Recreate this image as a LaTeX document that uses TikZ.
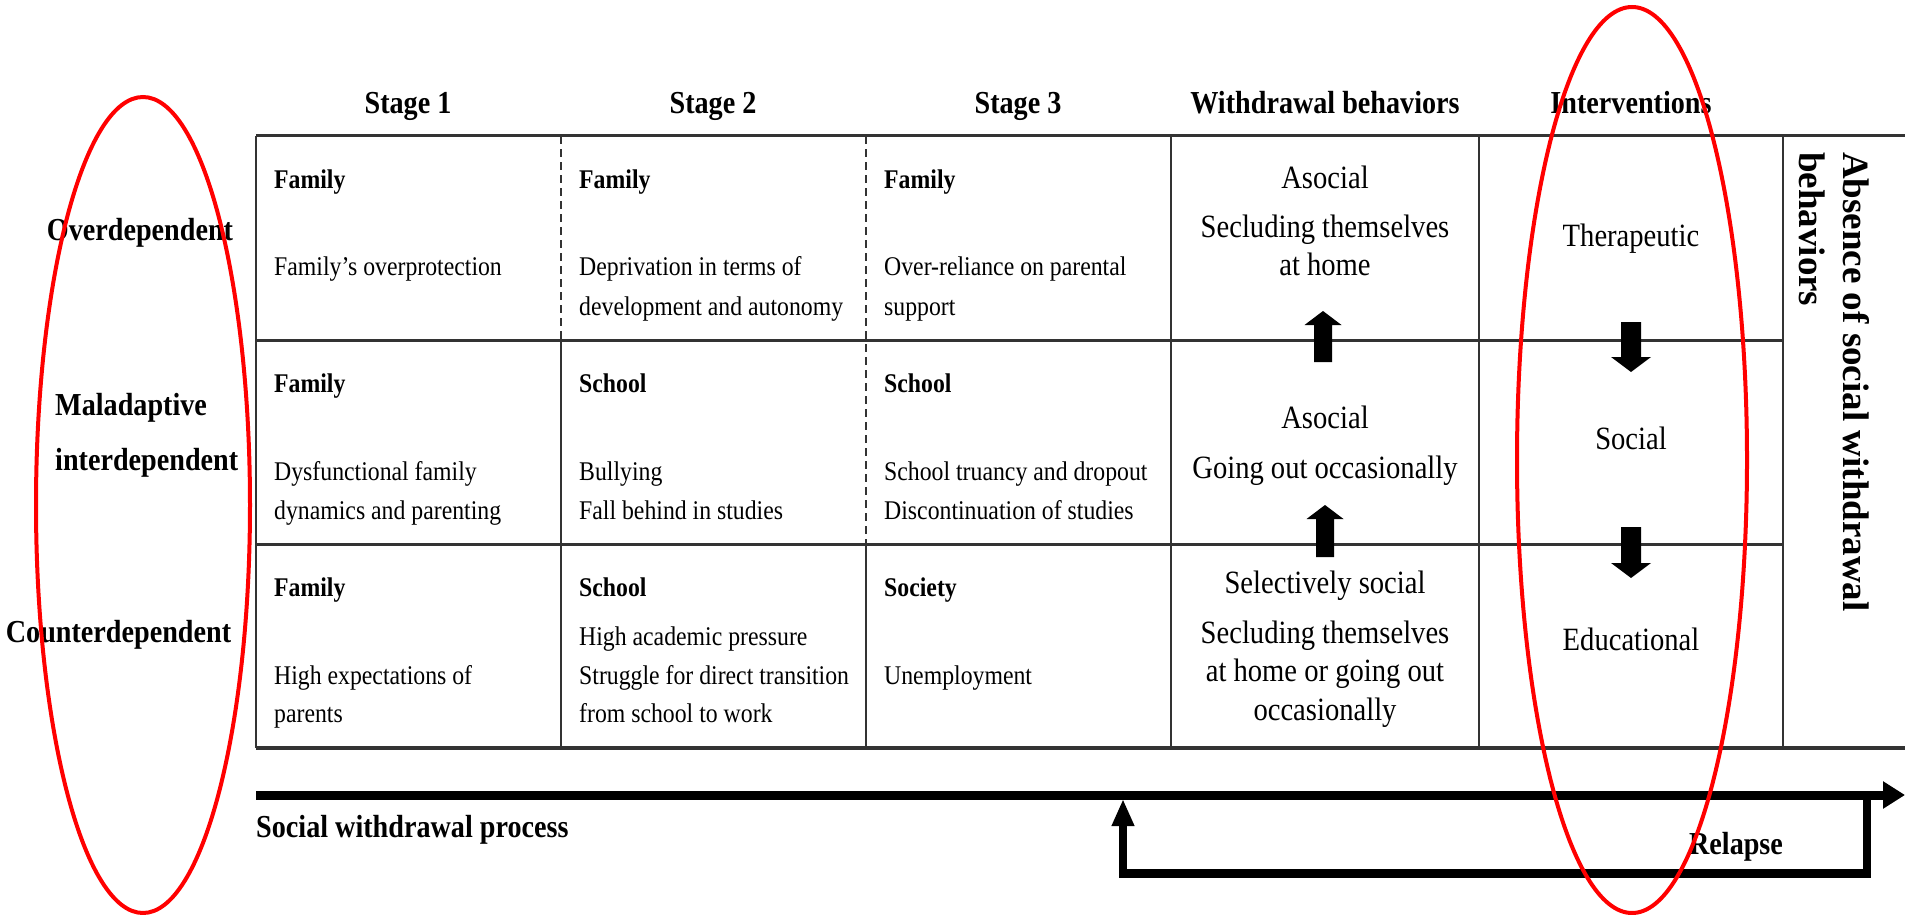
\documentclass[tikz,border=0pt]{standalone}
\usepackage{fontspec}
\setmainfont{Liberation Serif}[FakeStretch=0.88]
\newfontfamily\plainserif{Liberation Serif}
\usetikzlibrary{arrows.meta}

\tikzset{
  tabv/.style={draw=black!80, line width=1.8pt},
  tabh/.style={draw=black!80, line width=3pt},
  tabdash/.style={draw=black!80, line width=1.6pt, dash pattern=on 8pt off 5pt},
  lowered/.style={yshift=-7pt},
  colhead/.style={font=\fontsize{32}{38}\selectfont\bfseries, inner sep=0pt, anchor=mid, lowered},
  rowhead/.style={font=\fontsize{32}{38}\selectfont\bfseries, inner sep=0pt, lowered},
  cellhead/.style={font=\fontsize{27}{40}\selectfont\bfseries, inner sep=0pt, anchor=mid west, lowered},
  celltext/.style={font=\fontsize{27}{40}\selectfont, inner sep=0pt, anchor=mid west, lowered},
  behtext/.style={font=\fontsize{32.5}{40}\selectfont, inner sep=0pt, anchor=mid, lowered},
  blockarrow/.style={fill=black},
  flowline/.style={draw=black, line width=9pt},
  loopside/.style={draw=black, line width=7.5pt},
  ring/.style={draw=red, line width=4pt},
}

\begin{document}
\begin{tikzpicture}[x=1pt,y=-1pt]
\useasboundingbox (0,0) rectangle (1905,915);

% ---- table rules ----
\draw[tabh] (256,136) -- (1905,136);
\draw[tabh] (256,340) -- (1783,340);
\draw[tabh] (256,544) -- (1783,544);
\draw[tabh, line width=3.5pt] (256,748) -- (1905,748);
\draw[tabv] (256,136) -- (256,748);
\draw[tabdash] (561,136) -- (561,340);
\draw[tabv] (561,340) -- (561,748);
\draw[tabdash] (866,136) -- (866,544);
\draw[tabv] (866,544) -- (866,748);
\draw[tabv] (1171,136) -- (1171,748);
\draw[tabv] (1479,136) -- (1479,748);
\draw[tabv] (1783,136) -- (1783,748);

% ---- column headers ----
\node[colhead] (hS1) at (408,104) {Stage 1};
\node[colhead] (hS2) at (713,104) {Stage 2};
\node[colhead] (hS3) at (1018,104) {Stage 3};
\node[colhead] (hWB) at (1325,104) {Withdrawal behaviors};
\node[colhead] (hIV) at (1631,104) {Interventions};

% ---- row labels ----
\node[rowhead, anchor=mid] (rOver) at (140,231) {Overdependent};
\node[rowhead, anchor=mid west] (rMalA) at (55,406) {Maladaptive};
\node[rowhead, anchor=mid west] (rMalB) at (55,461) {interdependent};
\node[rowhead, anchor=mid] (rCount) at (118.5,633) {Counterdependent};

% ---- row 1 ----
\node[cellhead] (aH) at (274,179) {Family};
\node[celltext] (aT) at (274,266) {Family’s overprotection};
\node[cellhead] (bH) at (579,179) {Family};
\node[celltext] (bT) at (579,266) {Deprivation in terms of};
\node[celltext] (bU) at (579,306) {development and autonomy};
\node[cellhead] (cH) at (884,179) {Family};
\node[celltext] (cT) at (884,266) {Over-reliance on parental};
\node[celltext] (cU) at (884,306) {support};

% ---- row 2 ----
\node[cellhead] (dH) at (274,383) {Family};
\node[celltext] (dT) at (274,471) {Dysfunctional family};
\node[celltext] (dU) at (274,510) {dynamics and parenting};
\node[cellhead] (eH) at (579,383) {School};
\node[celltext] (eT) at (579,471) {Bullying};
\node[celltext] (eU) at (579,510) {Fall behind in studies};
\node[cellhead] (fH) at (884,383) {School};
\node[celltext] (fT) at (884,471) {School truancy and dropout};
\node[celltext] (fU) at (884,510) {Discontinuation of studies};

% ---- row 3 ----
\node[cellhead] (gH) at (274,587) {Family};
\node[celltext] (gT) at (274,675) {High expectations of};
\node[celltext] (gU) at (274,713) {parents};
\node[cellhead] (hH) at (579,587) {School};
\node[celltext] (hS) at (579,636) {High academic pressure};
\node[celltext] (hT) at (579,675) {Struggle for direct transition};
\node[celltext] (hU) at (579,713) {from school to work};
\node[cellhead] (iH) at (884,587) {Society};
\node[celltext] (iT) at (884,675) {Unemployment};

% ---- withdrawal behaviours ----
\node[behtext] (w1a) at (1325,179) {Asocial};
\node[behtext] (w1b) at (1325,228) {Secluding themselves};
\node[behtext] (w1c) at (1325,266) {at home};
\node[behtext] (w2a) at (1325,419) {Asocial};
\node[behtext] (w2b) at (1325,469) {Going out occasionally};
\node[behtext] (w3a) at (1325,584) {Selectively social};
\node[behtext] (w3b) at (1325,634) {Secluding themselves};
\node[behtext] (w3c) at (1325,672) {at home or going out};
\node[behtext] (w3d) at (1325,711) {occasionally};

% ---- interventions ----
\node[behtext] (iv1) at (1631,237) {Therapeutic};
\node[behtext] (iv2) at (1631,440) {Social};
\node[behtext] (iv3) at (1631,641) {Educational};

% ---- final column, rotated ----
\node[font=\plainserif\fontsize{37}{44}\selectfont\bfseries, rotate=-90,
      anchor=north west, align=left, inner sep=0pt] (absence) at (1870,152)
      {Absence of social withdrawal\\behaviors};

% ---- block arrows between behaviours (up) ----
\fill[blockarrow] (1314,362) -- (1314,325) -- (1304.5,325) -- (1323,311)
  -- (1341.5,325) -- (1332,325) -- (1332,362) -- cycle;
\fill[blockarrow] (1316,557) -- (1316,519) -- (1306.5,519) -- (1325,505)
  -- (1343.5,519) -- (1334,519) -- (1334,557) -- cycle;

% ---- block arrows between interventions (down) ----
\fill[blockarrow] (1621,322) -- (1621,357) -- (1611,357) -- (1631,372)
  -- (1651,357) -- (1641,357) -- (1641,322) -- cycle;
\fill[blockarrow] (1621,527) -- (1621,563) -- (1611,563) -- (1631,578)
  -- (1651,563) -- (1641,563) -- (1641,527) -- cycle;

% ---- process arrow and relapse loop ----
\coordinate (procStart) at (256,795);
\coordinate (procEnd) at (1905,795);
\coordinate (relTop) at (1867,795);
\coordinate (relCorner) at (1867,877);
\coordinate (relRight) at (1870.75,873);
\coordinate (relLeft) at (1119.25,873);
\coordinate (relBase) at (1123,877);
\coordinate (relTip) at (1123,799);

\draw[loopside] (relTop) -- (relCorner);
\draw[flowline] (relLeft) -- (relRight);
\draw[loopside, -{Triangle[length=27pt,width=21pt]}] (relBase) -- (relTip);
\draw[flowline, -{Triangle[length=22pt,width=26pt]}] (procStart) -- (procEnd);

\node[rowhead, anchor=mid west] (process) at (256,828) {Social withdrawal process};
\node[colhead] (relapse) at (1736,845) {Relapse};

% ---- highlight rings ----
\draw[ring] (143,505) ellipse [x radius=107, y radius=408];
\draw[ring] (1632,460) ellipse [x radius=115, y radius=453];
\end{tikzpicture}
\end{document}
